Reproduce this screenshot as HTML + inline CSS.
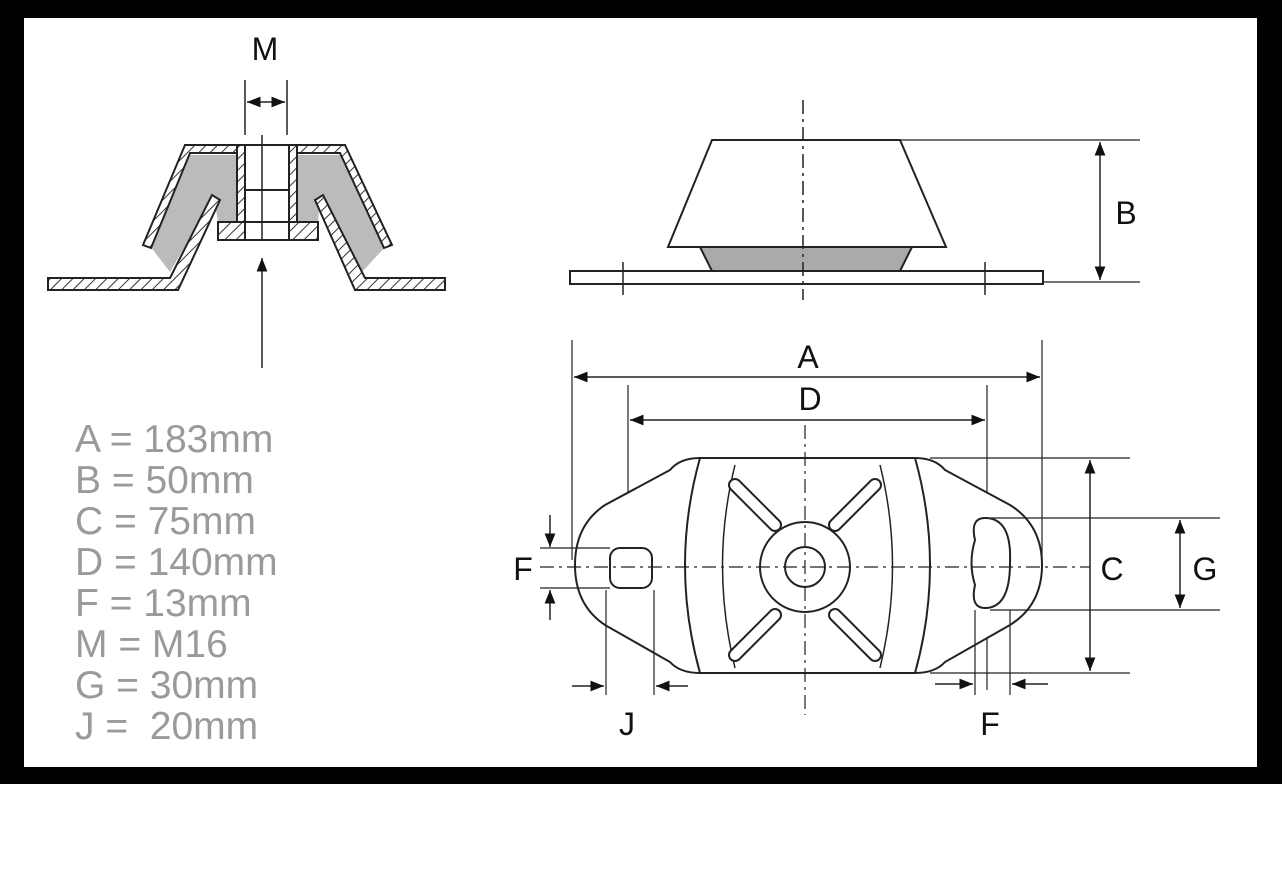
<!DOCTYPE html>
<html><head><meta charset="utf-8"><style>
html,body{margin:0;padding:0;background:#fff;width:1282px;height:872px;overflow:hidden}
svg{display:block}
text{font-family:"Liberation Sans",sans-serif}
</style></head><body>
<svg width="1282" height="872" viewBox="0 0 1282 872">
<defs>
<marker id="a" viewBox="0 0 10 10" refX="10" refY="5" markerWidth="9" markerHeight="9" orient="auto-start-reverse"><path d="M0,1 L10,5 L0,9 z" fill="#111"/></marker>
<pattern id="h" width="8" height="8" patternUnits="userSpaceOnUse" patternTransform="rotate(45)"><rect width="8" height="8" fill="#fff"/><line x1="0" y1="0" x2="0" y2="8" stroke="#333" stroke-width="2"/></pattern>
</defs>
<rect x="0" y="0" width="1282" height="784" fill="#000"/>
<rect x="24" y="18" width="1233" height="749" fill="#fff"/>
<g stroke="#222" stroke-width="2" fill="none">
<!-- left section -->
<path d="M188,155 L237,155 L237,222 L218,222 L214,197 L170,272 L150,246 Z" fill="#bbb" stroke="none"/>
<path d="M345,155 L297,155 L297,222 L318,222 L320,197 L362,272 L386,246 Z" fill="#bbb" stroke="none"/>
<path d="M143,245 L185,145 L345,145 L392,245 L384,248 L340,153 L190,153 L151,248 Z" fill="url(#h)"/>
<path d="M48,278 L170,278 L212,195 L220,200 L178,290 L48,290 Z" fill="url(#h)"/>
<path d="M445,278 L365,278 L323,195 L315,200 L355,290 L445,290 Z" fill="url(#h)"/>
<rect x="237" y="145" width="60" height="95" fill="#fff"/>
<rect x="237" y="145" width="8" height="80" fill="url(#h)"/>
<rect x="289" y="145" width="8" height="80" fill="url(#h)"/>
<rect x="218" y="222" width="100" height="18" fill="url(#h)"/>
<rect x="245" y="222" width="44" height="18" fill="#fff"/>
<line x1="245" y1="190" x2="289" y2="190"/>
<line x1="262" y1="135" x2="262" y2="240" stroke-width="1.5"/>
<line x1="262" y1="368" x2="262" y2="258" marker-end="url(#a)" stroke-width="1.5"/>
<line x1="245" y1="80" x2="245" y2="135" stroke-width="1.5"/>
<line x1="287" y1="80" x2="287" y2="135" stroke-width="1.5"/>
<line x1="247" y1="102" x2="285" y2="102" marker-start="url(#a)" marker-end="url(#a)" stroke-width="1.5"/>
<!-- side view -->
<path d="M700,247 L912,247 L900,271 L712,271 Z" fill="#aaa"/>
<path d="M712,140 L900,140 L946,247 L668,247 Z" fill="#fff"/>
<rect x="570" y="271" width="473" height="13" fill="#fff"/>
<line x1="623" y1="262" x2="623" y2="295" stroke-width="1.5"/>
<line x1="985" y1="262" x2="985" y2="295" stroke-width="1.5"/>
<line x1="803" y1="100" x2="803" y2="300" stroke-dasharray="14,5,3,5" stroke-width="1.5"/>
<line x1="900" y1="140" x2="1140" y2="140" stroke-width="1.2"/>
<line x1="1043" y1="282" x2="1140" y2="282" stroke-width="1.2"/>
<line x1="1100" y1="142" x2="1100" y2="280" marker-start="url(#a)" marker-end="url(#a)" stroke-width="1.5"/>
<!-- plan view -->
<line x1="572" y1="340" x2="572" y2="560" stroke-width="1.2"/>
<line x1="1042" y1="340" x2="1042" y2="560" stroke-width="1.2"/>
<line x1="574" y1="377" x2="1040" y2="377" marker-start="url(#a)" marker-end="url(#a)" stroke-width="1.5"/>
<line x1="628" y1="385" x2="628" y2="545" stroke-width="1.2"/>
<line x1="987" y1="385" x2="987" y2="690" stroke-width="1.2"/>
<line x1="630" y1="420" x2="985" y2="420" marker-start="url(#a)" marker-end="url(#a)" stroke-width="1.5"/>
<path d="M700,458 L915,458 Q935,458 945,470 L1010,505 Q1042,525 1042,565 Q1042,605 1010,625 L945,662 Q935,673 915,673 L700,673 Q680,673 670,662 L605,625 Q575,605 575,565 Q575,525 605,505 L670,470 Q680,458 700,458 Z" fill="#fff"/>
<path d="M700,458 Q670,565 700,673 M915,458 Q945,565 915,673" />
<path d="M735,465 Q710,565 735,668 M880,465 Q905,565 880,668" stroke-width="1.5"/>
<circle cx="805" cy="567" r="45"/>
<circle cx="805" cy="567" r="20"/>
<g stroke-width="14" stroke-linecap="round" stroke="#222"><line x1="735" y1="485" x2="775" y2="525"/><line x1="875" y1="485" x2="835" y2="525"/><line x1="735" y1="655" x2="775" y2="615"/><line x1="875" y1="655" x2="835" y2="615"/></g>
<g stroke-width="10" stroke-linecap="round" stroke="#fff"><line x1="735" y1="485" x2="775" y2="525"/><line x1="875" y1="485" x2="835" y2="525"/><line x1="735" y1="655" x2="775" y2="615"/><line x1="875" y1="655" x2="835" y2="615"/></g>
<rect x="610" y="548" width="42" height="40" rx="10" fill="#fff"/>
<path d="M985,518 Q1012,518 1010,563 Q1010,608 985,608 Q970,608 975,585 Q968,563 975,540 Q970,518 985,518 Z" fill="#fff"/>
<line x1="540" y1="567" x2="1090" y2="567" stroke-dasharray="14,5,3,5" stroke-width="1.2"/>
<line x1="805" y1="425" x2="805" y2="715" stroke-dasharray="14,5,3,5" stroke-width="1.2"/>
<line x1="930" y1="458" x2="1130" y2="458" stroke-width="1.2"/>
<line x1="930" y1="673" x2="1130" y2="673" stroke-width="1.2"/>
<line x1="1090" y1="460" x2="1090" y2="671" marker-start="url(#a)" marker-end="url(#a)" stroke-width="1.5"/>
<line x1="990" y1="518" x2="1220" y2="518" stroke-width="1.2"/>
<line x1="990" y1="610" x2="1220" y2="610" stroke-width="1.2"/>
<line x1="1180" y1="520" x2="1180" y2="608" marker-start="url(#a)" marker-end="url(#a)" stroke-width="1.5"/>
<line x1="540" y1="548" x2="610" y2="548" stroke-width="1.2"/>
<line x1="540" y1="588" x2="610" y2="588" stroke-width="1.2"/>
<line x1="550" y1="515" x2="550" y2="547" marker-end="url(#a)" stroke-width="1.5"/>
<line x1="550" y1="620" x2="550" y2="590" marker-end="url(#a)" stroke-width="1.5"/>
<line x1="606" y1="590" x2="606" y2="695" stroke-width="1.2"/>
<line x1="654" y1="590" x2="654" y2="695" stroke-width="1.2"/>
<line x1="572" y1="686" x2="604" y2="686" marker-end="url(#a)" stroke-width="1.5"/>
<line x1="688" y1="686" x2="656" y2="686" marker-end="url(#a)" stroke-width="1.5"/>
<line x1="975" y1="610" x2="975" y2="695" stroke-width="1.2"/>
<line x1="1010" y1="610" x2="1010" y2="695" stroke-width="1.2"/>
<line x1="935" y1="684" x2="973" y2="684" marker-end="url(#a)" stroke-width="1.5"/>
<line x1="1048" y1="684" x2="1012" y2="684" marker-end="url(#a)" stroke-width="1.5"/>
</g>
<g font-size="32" fill="#111" text-anchor="middle">
<text x="265" y="60">M</text><text x="1126" y="224">B</text><text x="808" y="368">A</text><text x="810" y="410">D</text>
<text x="1112" y="580">C</text><text x="1205" y="580">G</text><text x="523" y="580">F</text><text x="627" y="735">J</text><text x="990" y="735">F</text>
</g>
<g font-size="39" fill="#9a9a9a">
<text x="75" y="452">A = 183mm</text><text x="75" y="493">B = 50mm</text><text x="75" y="534">C = 75mm</text><text x="75" y="575">D = 140mm</text>
<text x="75" y="616">F = 13mm</text><text x="75" y="657">M = M16</text><text x="75" y="698">G = 30mm</text><text x="75" y="739" xml:space="preserve">J =  20mm</text>
</g>
</svg>
</body></html>
